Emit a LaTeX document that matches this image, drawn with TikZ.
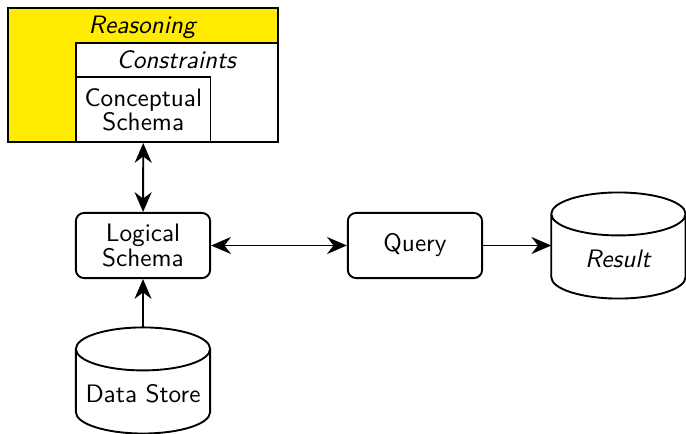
\documentclass[tikz,border=0pt]{standalone}
\usepackage{tikz}
\usetikzlibrary{positioning,arrows.meta}
\definecolor{reasonyellow}{RGB}{255,236,0}

\begin{document}
\begin{tikzpicture}[x=0.0149cm,y=-0.0149cm,font=\sffamily\fontsize{10.7}{10.2}\selectfont,node distance=2cm,on grid,thick,
    box/.style={draw,fill=white,minimum width=2cm,minimum height=0.97cm,align=center,inner sep=2pt},
    rbox/.style={box,rounded corners=3.5pt},
    db/.style={minimum width=2cm,minimum height=1.58cm,outer sep=0pt,text height=19pt,text depth=0pt},
    >={Stealth[length=8.4pt,width=7.2pt]}]

    \useasboundingbox (0,0) rectangle (686,434);

    \node[rbox] (logical) at (143,245.5) {Logical\\Schema};
    \node[rbox] (query) [right=4.05cm of logical] {Query};
    \node[db] (result) [right=3.03cm of query] {\textit{Result}};
    \node[db] (datastore) [below=2.01cm of logical] {Data Store};

    % cylinder outlines
    \foreach \n in {result,datastore}
    \draw ([yshift=-0.32cm]\n.north) ellipse [x radius=1cm, y radius=0.32cm]
    ([yshift=-0.32cm]\n.north west) -- ([yshift=0.32cm]\n.south west)
    arc [start angle=180, end angle=360, x radius=1cm, y radius=0.32cm]
    -- ([yshift=-0.32cm]\n.north east);

    \node[box, fill=reasonyellow, minimum width=4.01cm, minimum height=2cm,
      label={[anchor=north]north:\textit{Reasoning}}] (reasoning) [above=2.54cm of logical] {};
    \node[box, minimum width=3cm, minimum height=1.475cm, anchor=south east,
      label={[anchor=north]north:\textit{Constraints}}] (constraints) at (reasoning.south east) {};
    \node[box, anchor=south west] (conceptual) at (constraints.south west) {Conceptual\\Schema};

    \path[<->]
    (conceptual) edge (logical)
    (logical) edge (query);

    \path[->]
    (query) edge (result)
    (datastore) edge (logical);
\end{tikzpicture}
\end{document}
